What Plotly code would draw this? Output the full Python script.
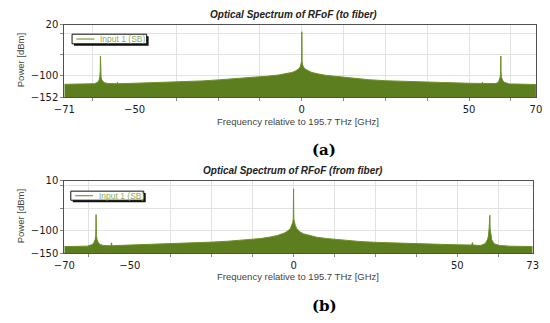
import plotly.graph_objects as go

# ---------------- data ----------------
TO_FREQ = [-71, -68, -65, -62, -61, -60.6, -60.4, -60.25, -60.2, -60.15, -60.0, -59.8, -59.5, -59,
           -58, -56, -55.3, -55.1, -54.9, -52, -50, -45, -40, -35, -30, -25, -20, -15, -10, -7,
           -5, -3, -2, -1, -0.5, -0.25, -0.1, -0.04, 0, 0.04, 0.1, 0.25, 0.5, 1, 2, 3, 5, 7,
           10, 15, 20, 25, 30, 35, 40, 45, 50, 53.8, 54.0, 54.2, 56, 58, 58.8, 59.1, 59.3,
           59.45, 59.5, 59.55, 59.7, 60, 60.5, 62, 65, 68, 70]
TO_POWER = [-121, -120.5, -120, -119.5, -116, -111, -104, -90, -54, -90, -104, -110, -114, -117,
            -119, -119.5, -119.5, -116, -119.5, -119, -118.5, -117.5, -116, -114.5, -113, -110.5,
            -108, -105, -101.5, -99, -96.5, -93, -90, -85, -80, -75, -68, -50, 3, -50, -68, -75,
            -80, -85, -90, -93, -96.5, -99.5, -102, -106.5, -110, -112.5, -114, -115.5, -116.5,
            -117.5, -118.5, -119, -116, -119, -119.5, -119, -116, -111, -104, -90, -54, -90, -104,
            -111, -116, -120, -120.5, -121, -121.5]

FROM_FREQ = [-70, -66, -63, -61.5, -61, -60.6, -60.4, -60.35, -60.3, -60.25, -60.2, -60.0, -59.6,
             -59, -58, -56, -55.8, -55.6, -55.4, -50, -45, -40, -35, -30, -25, -20, -15, -10,
             -7, -5, -3, -2, -1, -0.5, -0.25, -0.1, -0.04, 0, 0.04, 0.1, 0.25, 0.5, 1, 2, 3, 5,
             7, 10, 15, 20, 25, 30, 35, 40, 45, 50, 54.4, 54.6, 54.8, 57, 58.5, 59.2, 59.5, 59.7,
             59.75, 59.85, 59.95, 60.0, 60.2, 60.5, 61.2, 63, 66, 70, 73]
FROM_POWER = [-135.5, -135, -134.5, -131, -127, -120, -110, -95, -64.5, -95, -110, -120, -127,
              -131, -133, -133.5, -133.5, -127, -133.5, -132, -131, -130, -129, -127.5, -125.5,
              -123.5, -121, -117.5, -114, -111, -106, -102, -96, -88, -82, -75, -55, -7.5, -55,
              -75, -82, -88, -96, -103, -107, -111.5, -114.5, -117.5, -121, -124, -126, -127.5,
              -128.5, -129.5, -130.5, -131.5, -132, -126.5, -132, -133, -129, -120, -112, -95,
              -66, -70, -66, -95, -112, -120, -129, -133, -134.5, -135, -135.5]

SERIES_NAME = "Input 1 (SB)"
TITLES = ["Optical Spectrum of RFoF (to fiber)", "Optical Spectrum of RFoF (from fiber)"]
X_TITLE = "Frequency relative to 195.7 THz [GHz]"
Y_TITLE = "Power [dBm]"
PANEL_LABELS = ["(a)", "(b)"]

TO_XTICKS = [-71, -50, 0, 50, 70]
FROM_XTICKS = [-70, -50, 0, 50, 73]
TO_YTICKS = [20, -100, -152]
FROM_YTICKS = [10, -100, -150]
GRID_X = [-62.5, -37.5, -25, -12.5, 0, 12.5, 25, 37.5, 50, 62.5]
GRID_Y = [0, -50, -100]

# ---------------- style ----------------
W, H = 550, 323
FILL = "#5c7e1e"
LINE = "#6f9128"
LEG_TEXT = "#8fae55"
GRID = "#e2e2e2"
BORDER = "#505050"
TICKFONT = dict(family="DejaVu Sans", size=10, color="#1a1a1a")


def px(x):
    return x / W


def py(y):
    return 1 - y / H


fig = go.Figure()

panels = [
    dict(freq=TO_FREQ, power=TO_POWER, xt=TO_XTICKS, yt=TO_YTICKS,
         box=(55, 541.7, 19.3, 95), ax="", lab_ax="3"),
    dict(freq=FROM_FREQ, power=FROM_POWER, xt=FROM_XTICKS, yt=FROM_YTICKS,
         box=(55, 538.3, 181.7, 256.7), ax="2", lab_ax="4"),
]

for i, p in enumerate(panels):
    xa = "x" + p["ax"]
    ya = "y" + p["ax"]
    xr = [p["xt"][0], p["xt"][-1]]
    yr = [p["yt"][-1], p["yt"][0]]
    # floor trace for the area fill
    fig.add_trace(go.Scatter(x=xr, y=[yr[0] - 20, yr[0] - 20], mode="lines",
                             line=dict(width=0, color=FILL), hoverinfo="skip",
                             showlegend=False, xaxis=xa, yaxis=ya))
    fig.add_trace(go.Scatter(x=p["freq"], y=p["power"], mode="lines", name=SERIES_NAME,
                             line=dict(width=1, color=LINE), fill="tonexty",
                             fillcolor=FILL, showlegend=False, xaxis=xa, yaxis=ya))
    # empty trace on the labelled overlay axis
    fig.add_trace(go.Scatter(x=[], y=[], showlegend=False, xaxis="x" + p["lab_ax"], yaxis=ya))

    x0, x1, y0, y1 = p["box"]
    fig.layout["xaxis" + p["ax"]] = dict(domain=[px(x0), px(x1)], range=xr, anchor=ya,
                                         tickmode="array", tickvals=GRID_X,
                                         showticklabels=False, showgrid=True, gridcolor=GRID,
                                         gridwidth=1, ticks="outside", ticklen=3,
                                         tickcolor="#888", showline=True, mirror=True,
                                         linecolor=BORDER, linewidth=1, zeroline=False)
    fig.layout["yaxis" + p["ax"]] = dict(domain=[py(y1), py(y0)], range=yr, anchor=xa,
                                         tickmode="array", tickvals=p["yt"], showgrid=True,
                                         gridcolor=GRID, ticks="outside", ticklen=3,
                                         tickcolor="#888", tickfont=TICKFONT,
                                         minor=dict(tickvals=GRID_Y, showgrid=True,
                                                    gridcolor=GRID, ticks="outside",
                                                    ticklen=3, tickcolor="#888"),
                                         showline=True, mirror=True, linecolor=BORDER,
                                         linewidth=1, zeroline=False)
    fig.layout["xaxis" + p["lab_ax"]] = dict(overlaying=xa, anchor=ya, side="bottom",
                                             range=xr, tickmode="array", tickvals=p["xt"],
                                             showgrid=False, ticks="outside", ticklen=3,
                                             tickcolor="rgba(0,0,0,0)", tickfont=TICKFONT,
                                             zeroline=False, showline=False)

    fig.add_annotation(text="<b><i>" + TITLES[i] + "</i></b>", x=px(291), y=py(y0 - 10.5),
                       xref="paper", yref="paper", showarrow=False, xanchor="center",
                       yanchor="middle", font=dict(family="Liberation Sans", size=10,
                                                   color="#222"))
    fig.add_annotation(text=X_TITLE, x=px(296), y=py(y1 + 24.5), xref="paper", yref="paper",
                       showarrow=False, xanchor="center", yanchor="middle",
                       font=dict(family="Liberation Sans", size=9.5, color="#444"))
    fig.add_annotation(text=Y_TITLE, x=px(10), y=py((y0 + y1) / 2 - 0.5), xref="paper",
                       yref="paper", showarrow=False, xanchor="center", yanchor="middle",
                       textangle=-90, font=dict(family="Liberation Sans", size=9.5,
                                                color="#444"))
    fig.add_annotation(text="<b>" + PANEL_LABELS[i] + "</b>", x=px(323), y=py(y1 + 55),
                       xref="paper", yref="paper", showarrow=False, xanchor="center",
                       yanchor="middle", font=dict(family="DejaVu Serif", size=15,
                                                   color="#000"))

# legend boxes (drawn manually with shadow)
legends = [dict(x0=63, x1=140, y0=29.3, y1=39.3), dict(x0=61.7, x1=137, y0=192.3, y1=201.7)]
for lg in legends:
    fig.add_shape(type="rect", xref="paper", yref="paper",
                  x0=px(lg["x0"] + 2), x1=px(lg["x1"] + 2), y0=py(lg["y1"] + 2),
                  y1=py(lg["y0"] + 2), fillcolor="#111", line=dict(width=0), layer="above")
    fig.add_shape(type="rect", xref="paper", yref="paper",
                  x0=px(lg["x0"]), x1=px(lg["x1"]), y0=py(lg["y1"]), y1=py(lg["y0"]),
                  fillcolor="white", line=dict(width=1, color="#111"), layer="above")
    ym = (lg["y0"] + lg["y1"]) / 2
    fig.add_shape(type="line", xref="paper", yref="paper",
                  x0=px(lg["x0"] + 4.5), x1=px(lg["x0"] + 23), y0=py(ym), y1=py(ym),
                  line=dict(width=1.2, color="#7a9c3a"), layer="above")
    fig.add_annotation(text=SERIES_NAME, x=px(lg["x0"] + 27), y=py(ym), xref="paper",
                       yref="paper", showarrow=False, xanchor="left", yanchor="middle",
                       font=dict(family="Liberation Sans", size=8.5, color=LEG_TEXT))

fig.update_layout(width=W, height=H, autosize=False,
                  margin=dict(l=0, r=0, t=0, b=0),
                  paper_bgcolor="white", plot_bgcolor="white", showlegend=False)

fig.write_html("out.html", config={"displayModeBar": False},
               post_script="document.body.style.margin='0';document.body.style.overflow='hidden';")
